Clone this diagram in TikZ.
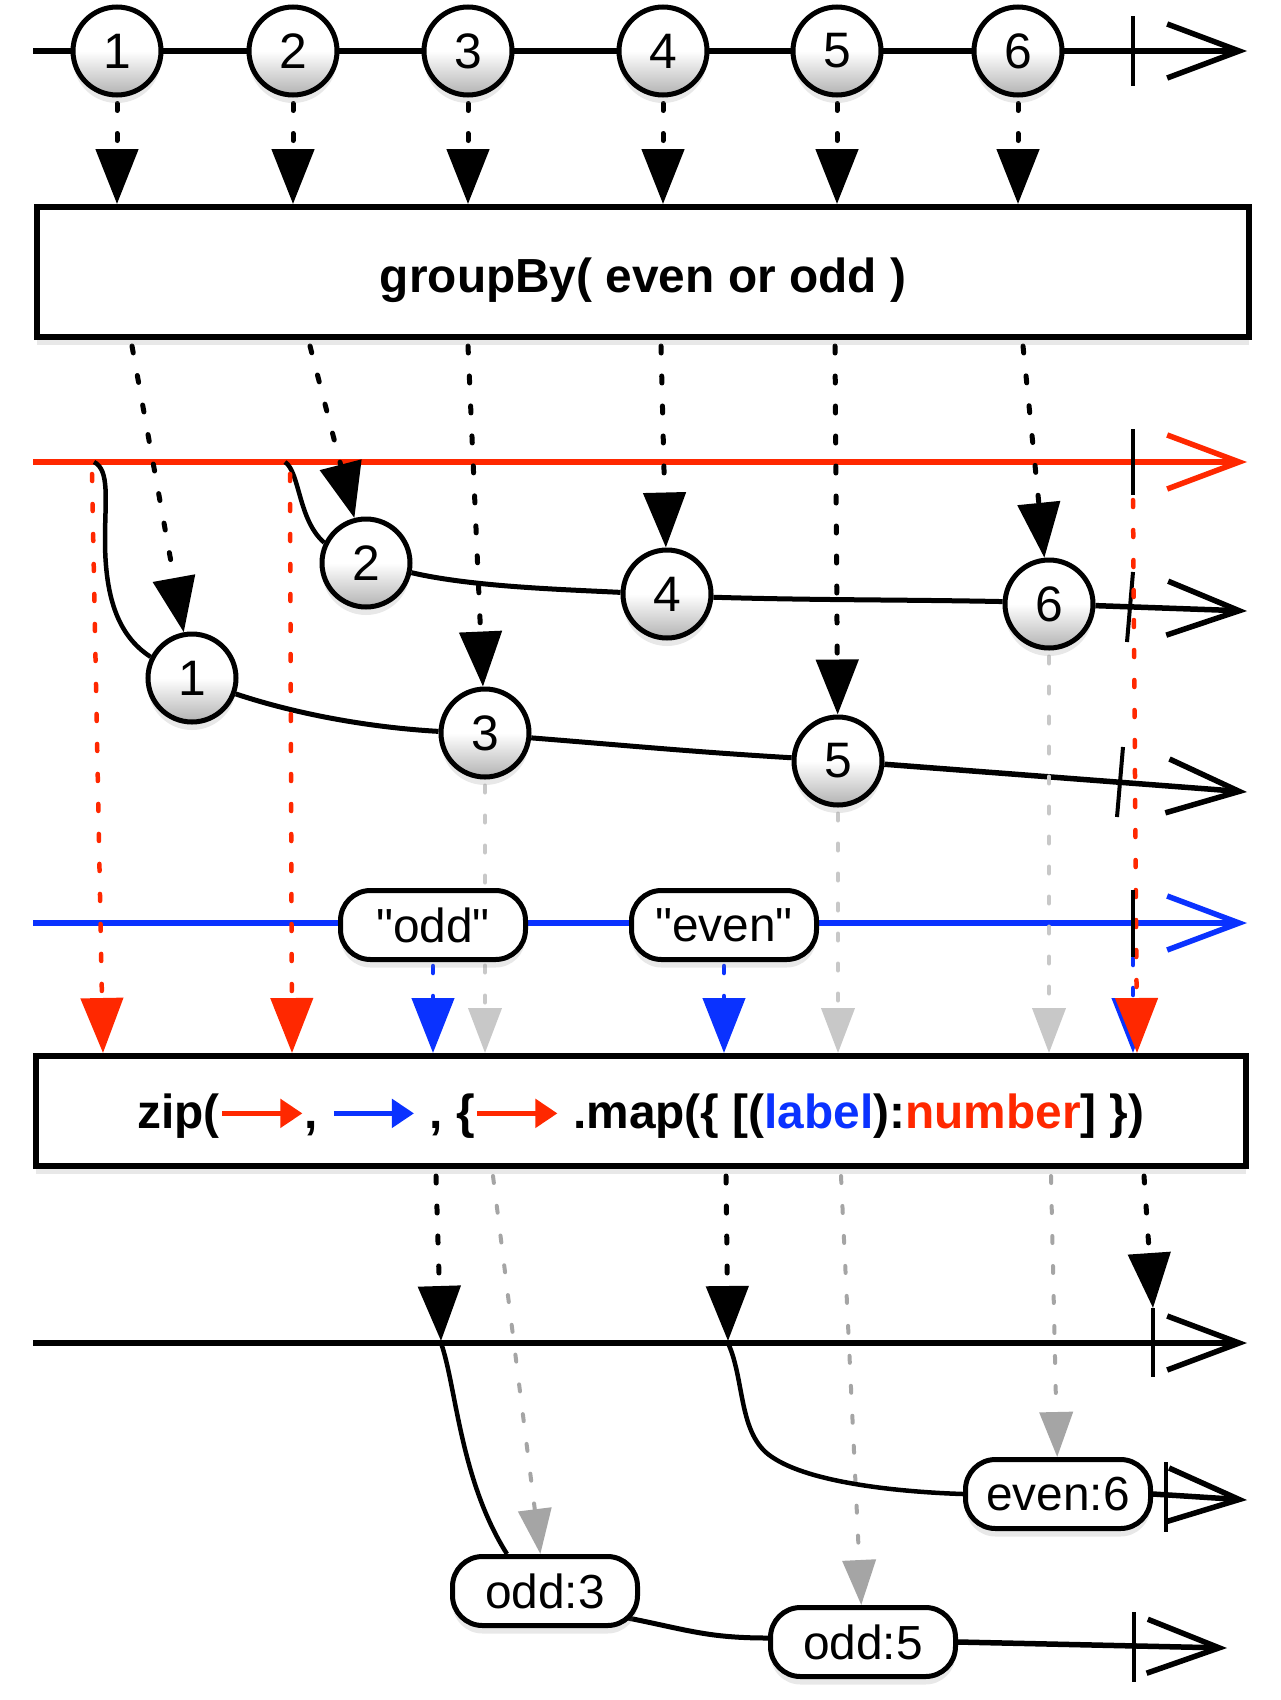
\documentclass[tikz,border=0pt]{standalone}
\usepackage{fontspec}
\setmainfont{Liberation Sans}
\newfontfamily\plainsans{Liberation Sans}
\usetikzlibrary{arrows.meta,shadows}
\definecolor{rxred}{RGB}{255,40,0}
\definecolor{rxblue}{RGB}{10,50,255}
\definecolor{lgray}{RGB}{200,200,200}
\definecolor{mgray}{RGB}{165,165,165}
\pgfdeclarelayer{bg}
\pgfsetlayers{bg,main}
\newcommand{\zarr}[1]{\tikz[baseline=0pt]{\draw[#1,line width=5bp,-{Triangle[length=22bp,width=28bp]}] (0bp,15bp) -- (80bp,15bp);}}
\begin{document}
\begin{tikzpicture}[x=1bp,y=-1bp,
  shade/.style={drop shadow={opacity=0.18,shadow xshift=0bp,shadow yshift=-8bp}},
  marble/.style={circle, draw, line width=5bp, minimum size=88bp, inner sep=0pt,
    top color=white, bottom color=black!30, middle color=white, shade,
    font=\fontsize{50}{50}\selectfont},
  pill/.style={draw, line width=5bp, rounded corners=30bp, fill=white, shade,
    minimum width=185bp, minimum height=69bp, inner sep=0pt,
    font=\plainsans\fontsize{48}{48}\selectfont},
  opbox/.style={draw, line width=6bp, fill=white, inner sep=0pt, shade,
    font=\fontsize{48}{48}\selectfont\bfseries},
  timeline/.style={line width=5.5bp, -{Straight Barb[length=72bp,width=54bp]}},
  endtick/.style={line width=4bp},
  link/.style={line width=5bp},
  split/.style={line width=4.5bp},
  blackdots/.style={line width=5bp, dash pattern=on 7bp off 23bp, line cap=round,
    -{Triangle[length=55bp,width=42bp]}},
  reddots/.style={blackdots, rxred, line width=4.5bp},
  bluedots/.style={blackdots, rxblue, line width=4.5bp},
  lightdots/.style={line width=4bp, dash pattern=on 7bp off 23bp, line cap=round,
    lgray, -{Triangle[length=45bp,width=33bp]}},
  middots/.style={lightdots, mgray}
]
\useasboundingbox (0,0) rectangle (1280,1700);

% ---------- nodes ----------
\node[marble] (t1) at (117,51) {1};
\node[marble] (t2) at (293,51) {2};
\node[marble] (t3) at (468,51) {3};
\node[marble] (t4) at (663,51) {4};
\node[marble] (t5) at (837,51) {5};
\node[marble] (t6) at (1018,51) {6};

\node[opbox, minimum width=1212bp, minimum height=130bp] (gb) at (643,272)
  {\raisebox{-8bp}[\height][\depth]{groupBy( even or odd )}};

\node[marble] (c1) at (192,678) {1};
\node[marble] (c2) at (366,563) {2};
\node[marble] (c3) at (485,733) {3};
\node[marble] (c4) at (667,594) {4};
\node[marble] (c5) at (838,761) {5};
\node[marble] (c6) at (1049,604) {6};

\node[pill] (odd) at (433,925) {"odd"};
\node[pill] (even) at (724,925) {"even"};

\node[opbox, minimum width=1210bp, minimum height=110bp] (zip) at (641,1111)
  {\raisebox{-5bp}[\height][\depth]{zip(\zarr{rxred},\ \zarr{rxblue}\ ,\ \{\zarr{rxred}\ .map(\{\ [(\textcolor{rxblue}{label}):\textcolor{rxred}{number}]\ \})}};

\node[pill] (e6) at (1058,1494) {even:6};
\node[pill] (o3) at (545,1591) {odd:3};
\node[pill] (o5) at (863,1642) {odd:5};

% ---------- connectors ----------
\begin{pgfonlayer}{bg}
\fill[white] (0,0) rectangle (1280,1700);

% source timeline
\coordinate (tl0) at (33,51); \coordinate (tl1) at (1247,51);
\draw[timeline] (tl0) -- (tl1);
\draw[endtick] (1133,16) -- (1133,86);
\foreach \n in {1,...,6} \draw[blackdots, shorten <=6bp] (t\n.south) -- (t\n |- gb.north);

% red outer timeline
\coordinate (rl0) at (33,462); \coordinate (rl1) at (1247,462);
\draw[timeline, rxred] (rl0) -- (rl1);
\draw[endtick] (1133,429) -- (1133,495);

% groupBy outputs
\foreach \x/\n in {132/1,310/2,468/3,661/4,835/5,1023/6}{
  \coordinate (gs\n) at (\x,346);
  \draw[blackdots] (gs\n) -- (c\n);
}

% odd group
\coordinate (og) at (94,462);
\draw[split] (og) .. controls (110,470) and (105,500) .. (105,540)
  .. controls (105,610) and (125,640) .. (c1.153);
\draw[link] (c1.-20) .. controls +(60,20) and +(-70,-4) .. (c3.178);
\draw[link] (c3.-6) .. controls +(100,8) and +(-100,-6) .. (c5.176);
\coordinate (oe) at (1247,792);
\draw[timeline] (c5.-4) -- (oe);
\draw[endtick] (1123,747) -- (1117,817);

% even group
\coordinate (eg) at (285,462);
\draw[split] (eg) .. controls (300,472) and (298,520) .. (c2.154);
\draw[link] (c2.-12) .. controls +(60,14) and +(-60,-3) .. (c4.178);
\draw[link] (c4.-4) .. controls +(100,3) and +(-100,-2) .. (c6.177);
\coordinate (ee) at (1247,611);
\draw[timeline] (c6.-2) -- (ee);
\draw[endtick] (1133,572) -- (1127,642);

% blue key timeline
\coordinate (bl0) at (33,923); \coordinate (bl1) at (1247,923);
\draw[timeline, rxblue] (bl0) -- (bl1);

% into zip
\coordinate (bx) at (1133,958); \coordinate (bxe) at (1133,1053);
\draw[bluedots] (bx) -- (bxe);
\draw[lightdots, shorten <=6bp] (c3.south) -- (c3 |- zip.north);
\draw[lightdots, shorten <=6bp] (c5.south) -- (c5 |- zip.north);
\draw[lightdots, shorten <=6bp] (c6.south) -- (c6 |- zip.north);
\draw[bluedots, shorten <=4bp] (odd.south) -- (odd.south |- zip.north);
\draw[bluedots, shorten <=4bp] (even.south) -- (even.south |- zip.north);
\coordinate (rd1s) at (92,474); \coordinate (rd1e) at (103,1053);
\coordinate (rd2s) at (290,474); \coordinate (rd2e) at (292,1053);
\coordinate (rd3s) at (1133,500); \coordinate (rd3e) at (1137,1053);
\draw[reddots] (rd1s) -- (rd1e);
\draw[reddots] (rd2s) -- (rd2e);
\draw[reddots] (rd3s) -- (rd3e);
\draw[endtick] (1133,890) -- (1133,957);

% result timeline
\coordinate (rs0) at (33,1343); \coordinate (rs1) at (1247,1343);
\draw[timeline] (rs0) -- (rs1);
\draw[endtick] (1153,1308) -- (1153,1377);

\coordinate (zb1) at (436,1176); \coordinate (rp1) at (441,1341);
\coordinate (zb2) at (726,1176); \coordinate (rp2) at (728,1341);
\coordinate (zb3) at (1144,1176); \coordinate (rp3) at (1153,1308);
\draw[blackdots] (zb1) -- (rp1);
\draw[blackdots] (zb2) -- (rp2);
\draw[blackdots] (zb3) -- (rp3);

\coordinate (zg1) at (493,1176);
\coordinate (zg2) at (841,1176);
\coordinate (zg3) at (1051,1176);
\draw[middots] (zg1) -- (o3);
\draw[middots] (zg2) -- (o5);
\draw[middots] (zg3) -- (e6);

\coordinate (os) at (441,1343);
\draw[split] (os) .. controls (456,1385) and (460,1480) .. ([xshift=-38bp]o3.north);
\coordinate (es) at (728,1343);
\draw[split] (es) .. controls (745,1380) and (738,1435) .. (772,1457)
  .. controls (810,1483) and (900,1492) .. (e6.west);
\draw[link] ([yshift=-27bp,xshift=-12bp]o3.east) .. controls +(60,12) and +(-60,0) .. ([yshift=4bp]o5.west);

\coordinate (ee2) at (1247,1500);
\draw[timeline] (e6.east) -- (ee2);
\draw[endtick] (1166,1462) -- (1166,1532);
\coordinate (oe2) at (1227,1648);
\draw[timeline] (o5.east) -- (oe2);
\draw[endtick] (1134,1612) -- (1134,1682);
\end{pgfonlayer}
\end{tikzpicture}
\end{document}
